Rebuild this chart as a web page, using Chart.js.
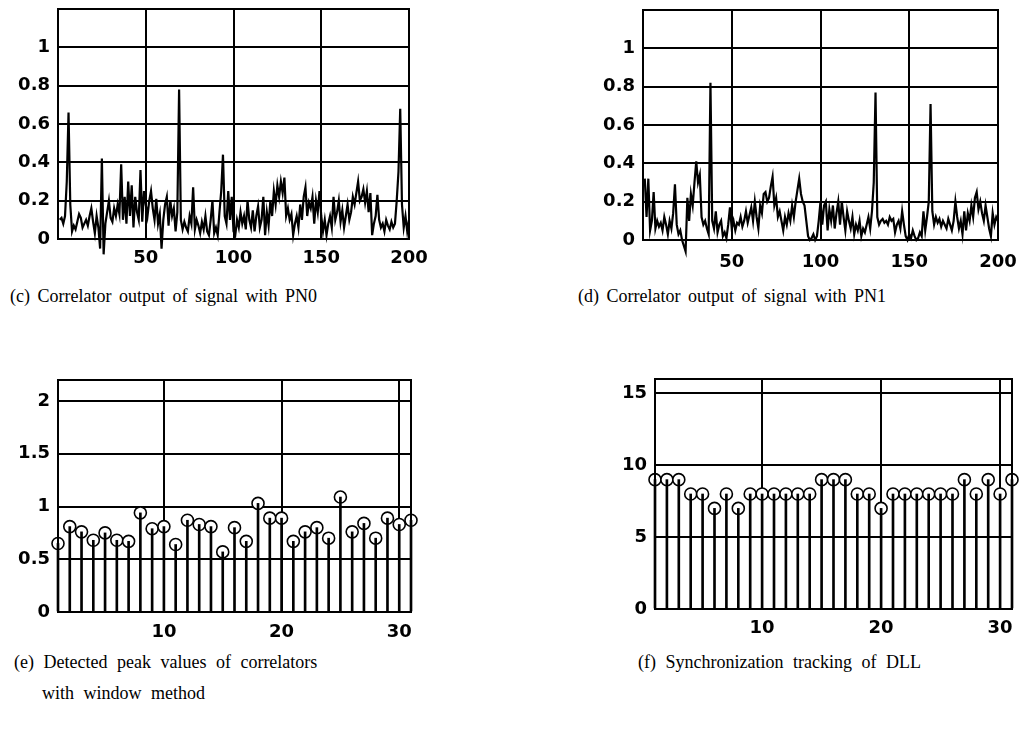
<!DOCTYPE html>
<html>
<head>
<meta charset="utf-8">
<script src="https://cdn.jsdelivr.net/npm/chart.js@4.4.1/dist/chart.umd.min.js"></script>
<style>
  body { margin: 0; background: #fff; }
  #page { position: relative; width: 1030px; height: 743px; overflow: hidden; }
  canvas { position: absolute; }
  .caption {
    position: absolute;
    font-family: "Liberation Serif", "Times New Roman", serif;
    font-size: 18px;
    line-height: 20px;
    word-spacing: 3px;
    color: #000;
    white-space: nowrap;
  }
</style>
</head>
<body>
<div id="page">
  <canvas id="chartC" width="430" height="275" style="left:0;top:0"></canvas>
  <canvas id="chartD" width="435" height="275" style="left:585px;top:0"></canvas>
  <canvas id="chartE" width="430" height="275" style="left:0;top:370px"></canvas>
  <canvas id="chartF" width="433" height="275" style="left:597px;top:370px"></canvas>

  <div class="caption" style="left:10px;top:286px">(c) Correlator output of signal with PN0</div>
  <div class="caption" style="left:578px;top:286px">(d) Correlator output of signal with PN1</div>
  <div class="caption" style="left:14px;top:652px;word-spacing:5px">(e) Detected peak values of correlators</div>
  <div class="caption" style="left:42px;top:683px;word-spacing:5px">with window method</div>
  <div class="caption" style="left:638px;top:652px;word-spacing:5px">(f) Synchronization tracking of DLL</div>
</div>

<script>
// correlator output, samples 1..200
const corrPN0 = [
  0.10, 0.11, 0.08, 0.12, 0.30, 0.66, 0.18, 0.04, 0.07, 0.05,
  0.09, 0.13, 0.11, 0.06, 0.08, 0.10, 0.07, 0.12, 0.16, 0.09,
  0.03, 0.12, 0.06, -0.05, 0.42, -0.08, 0.08, 0.14, 0.20, 0.11,
  0.09, 0.16, 0.12, 0.18, 0.13, 0.39, 0.10, 0.22, 0.08, 0.30,
  0.12, 0.28, 0.06, 0.22, 0.14, 0.10, 0.36, 0.09, 0.25, 0.18,
  0.12, 0.20, 0.25, 0.16, 0.10, 0.21, 0.08, 0.13, -0.05, 0.10,
  0.18, 0.22, 0.07, 0.20, 0.12, 0.16, 0.04, 0.14, 0.78, 0.10,
  0.05, 0.09, 0.06, 0.04, 0.12, 0.08, 0.27, 0.05, 0.10, 0.07,
  0.03, 0.09, 0.05, 0.12, 0.04, 0.02, 0.10, 0.20, 0.03, 0.06,
  0.02, 0.14, 0.25, 0.44, 0.12, 0.08, 0.25, 0.10, 0.22, 0.04,
  0.02, 0.10, 0.06, 0.14, 0.08, 0.12, 0.05, 0.20, 0.10, 0.06,
  0.15, 0.04, 0.12, 0.17, 0.06, 0.10, 0.22, 0.02, 0.14, 0.07,
  0.20, 0.12, 0.25, 0.18, 0.28, 0.22, 0.30, 0.24, 0.32, 0.12,
  0.16, 0.10, 0.13, 0.02, 0.08, 0.12, 0.06, 0.18, 0.10, 0.22,
  0.27, 0.12, 0.19, 0.16, 0.22, 0.08, 0.20, 0.14, 0.25, 0.12,
  0.04, 0.10, 0.02, 0.08, 0.12, 0.06, 0.22, 0.10, 0.14, 0.20,
  0.09, 0.15, 0.06, 0.12, 0.18, 0.10, 0.14, 0.22, 0.18, 0.24,
  0.30, 0.20, 0.22, 0.26, 0.19, 0.25, 0.14, 0.24, 0.02, 0.08,
  0.12, 0.23, 0.10, 0.06, 0.08, 0.04, 0.10, 0.07, 0.05, 0.09,
  0.06, 0.08, 0.20, 0.35, 0.68, 0.18, 0.06, 0.12, 0.04, 0.10
];

const corrPN1 = [
  0.32, 0.12, 0.32, 0.05, 0.10, 0.25, 0.06, 0.10, 0.07, 0.09,
  0.05, 0.12, 0.08, 0.03, 0.10, 0.06, 0.14, 0.29, 0.08, 0.03,
  0.05, 0.00, -0.03, -0.06, 0.22, 0.10, 0.24, 0.18, 0.30, 0.41,
  0.30, 0.34, 0.12, 0.08, 0.10, 0.06, 0.03, 0.82, 0.10, 0.06,
  0.15, 0.04, 0.08, 0.10, 0.02, 0.04, 0.01, 0.08, 0.17, 0.06,
  0.10, 0.05, 0.09, 0.08, 0.12, 0.07, 0.10, 0.15, 0.09, 0.13,
  0.17, 0.10, 0.20, 0.12, 0.06, 0.18, 0.14, 0.24, 0.25, 0.20,
  0.22, 0.28, 0.33, 0.18, 0.22, 0.12, 0.15, 0.10, 0.05, 0.12,
  0.08, 0.14, 0.10, 0.18, 0.12, 0.20, 0.26, 0.32, 0.24, 0.20,
  0.18, 0.10, 0.02, 0.00, 0.01, 0.03, 0.00, 0.02, 0.10, 0.20,
  0.08, 0.18, 0.20, 0.05, 0.16, 0.10, 0.18, 0.06, 0.14, 0.20,
  0.08, 0.20, 0.12, 0.05, 0.15, 0.10, 0.06, 0.12, 0.03, 0.08,
  0.05, 0.10, 0.02, 0.06, 0.04, 0.08, 0.12, 0.06, 0.15, 0.30,
  0.77, 0.12, 0.08, 0.10, 0.11, 0.09, 0.10, 0.08, 0.12, 0.10,
  0.11, 0.04, 0.08, 0.10, 0.06, 0.15, 0.08, 0.02, 0.00, 0.03,
  0.01, 0.05, 0.02, 0.00, 0.01, 0.04, 0.02, 0.15, 0.05, 0.12,
  0.20, 0.71, 0.15, 0.08, 0.12, 0.09, 0.11, 0.07, 0.10, 0.08,
  0.06, 0.11, 0.08, 0.05, 0.10, 0.20, 0.12, 0.06, 0.10, 0.03,
  0.15, 0.05, 0.14, 0.10, 0.18, 0.12, 0.22, 0.25, 0.16, 0.20,
  0.14, 0.10, 0.18, 0.12, 0.06, 0.02, 0.14, 0.08, 0.12, 0.10
];

// detected peaks / DLL tracking, windows 1..31
const peakValues = [
  0.65, 0.81, 0.76, 0.68, 0.75, 0.68, 0.67, 0.94, 0.79, 0.81,
  0.64, 0.87, 0.83, 0.81, 0.57, 0.80, 0.67, 1.03, 0.89, 0.89,
  0.67, 0.76, 0.80, 0.70, 1.09, 0.76, 0.84, 0.70, 0.89, 0.83, 0.87
];
const dllTracking = [
  9, 9, 9, 8, 8, 7, 8, 7, 8, 8,
  8, 8, 8, 8, 9, 9, 9, 8, 8, 7,
  8, 8, 8, 8, 8, 8, 9, 8, 9, 8, 9
];

const corrXTicks = [50, 100, 150, 200];
const corrYTicks = [0, 0.2, 0.4, 0.6, 0.8, 1];
const stemXTicks = [10, 20, 30];
const peakYTicks = [0, 0.5, 1, 1.5, 2];
const dllYTicks = [0, 5, 10, 15];

Chart.defaults.font.family = "'DejaVu Sans', Arial, sans-serif";
Chart.defaults.font.size = 18;
Chart.defaults.font.weight = "bold";
Chart.defaults.color = "#000";

// box around the plot area (matlab style)
const frame = {
  id: "frame",
  afterDraw(chart) {
    const { ctx, chartArea: a } = chart;
    ctx.save();
    ctx.strokeStyle = "#000";
    ctx.lineWidth = 2;
    ctx.strokeRect(a.left, a.top, a.right - a.left, a.bottom - a.top);
    ctx.restore();
  },
};

function toPoints(values) {
  return values.map((v, i) => ({ x: i + 1, y: v }));
}

function axis(min, max, tickList, size, pad, isX) {
  return {
    type: "linear",
    min: min,
    max: max,
    offset: false,
    grid: { color: "#000", lineWidth: 2, drawTicks: false, offset: false },
    border: { display: false },
    ticks: {
      autoSkip: false,
      maxRotation: 0,
      padding: pad,
      callback: (v) => String(v),
    },
    afterBuildTicks: (scale) => {
      scale.ticks = tickList.map((v) => ({ value: v }));
    },
    afterFit: (scale) => {
      if (isX) scale.height = size;
      else scale.width = size;
      // no extra room for label overflow, layout padding handles it
      scale.paddingTop = 0;
      scale.paddingBottom = 0;
      scale.paddingLeft = 0;
      scale.paddingRight = 0;
    },
  };
}

function commonOptions(padTop, padRight) {
  return {
    responsive: false,
    animation: false,
    devicePixelRatio: 1,
    layout: { padding: { top: padTop, right: padRight, left: 0, bottom: 0 } },
    plugins: { legend: { display: false }, tooltip: { enabled: false } },
  };
}

function corrChart(id, values, padTop, padRight, xHeight, xPad) {
  const opts = commonOptions(padTop, padRight);
  opts.scales = {
    x: axis(0, 200, corrXTicks, xHeight, xPad, true),
    y: axis(0, 1.2, corrYTicks, 58, 8, false),
  };
  return new Chart(document.getElementById(id), {
    type: "line",
    data: {
      datasets: [
        {
          data: toPoints(values),
          borderColor: "#000",
          borderWidth: 2.2,
          pointRadius: 0,
          tension: 0,
          clip: false,
        },
      ],
    },
    options: opts,
    plugins: [frame],
  });
}

function stemChart(id, values, yMax, yTicks, padTop, padRight, xHeight, xPad) {
  const opts = commonOptions(padTop, padRight);
  opts.scales = {
    x: axis(1, 31, stemXTicks, xHeight, xPad, true),
    y: axis(0, yMax, yTicks, 58, 8, false),
  };
  return new Chart(document.getElementById(id), {
    type: "bar",
    data: {
      datasets: [
        {
          // stems drawn on top so the line runs into the marker
          type: "bar",
          data: toPoints(values),
          backgroundColor: "#000",
          borderWidth: 0,
          barThickness: 2,
          grouped: false,
          clip: false,
        },
        {
          type: "line",
          data: toPoints(values),
          showLine: false,
          pointRadius: 6,
          pointBackgroundColor: "#fff",
          pointBorderColor: "#000",
          pointBorderWidth: 1.6,
          clip: false,
        },
      ],
    },
    options: opts,
    plugins: [frame],
  });
}

corrChart("chartC", corrPN0, 9, 21, 36, 9);
corrChart("chartD", corrPN1, 10, 22, 35, 12);
stemChart("chartE", peakValues, 2.2, peakYTicks, 10, 19, 33, 10);
stemChart("chartF", dllTracking, 16, dllYTicks, 9, 18, 36, 9);
</script>
</body>
</html>
